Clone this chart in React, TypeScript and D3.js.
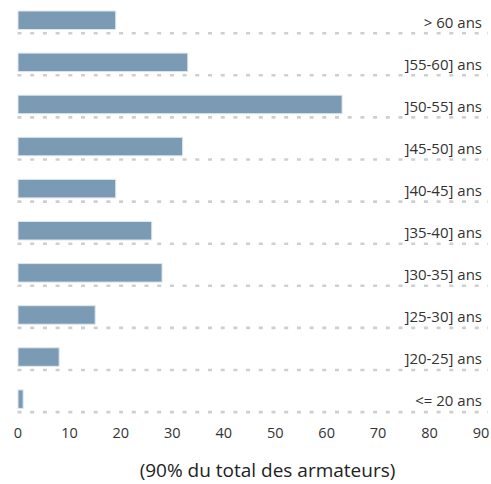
import React, { useRef, useEffect } from 'react';
import * as d3 from 'd3';

// Age groups, top to bottom, and the share of shipowners in each.
const categories = [
  '> 60 ans', ']55-60] ans', ']50-55] ans', ']45-50] ans', ']40-45] ans',
  ']35-40] ans', ']30-35] ans', ']25-30] ans', ']20-25] ans', '<= 20 ans',
];
const values = [19, 33, 63, 32, 19, 26, 28, 15, 8, 1];
const xTicks = [0, 10, 20, 30, 40, 50, 60, 70, 80, 90];
const axisTitle = '(90% du total des armateurs)';

const App = () => {
  const ref = useRef<SVGSVGElement>(null);

  useEffect(() => {
    const width = 491;
    const height = 484;
    const font = '"Open Sans", Lato, sans-serif';

    const svg = d3.select(ref.current);
    svg.selectAll('*').remove();
    svg.attr('width', width).attr('height', height);

    const x = d3.scaleLinear().domain([0, 90]).range([18, 481]);
    const y = d3.scaleBand<string>().domain(categories).range([4, 425]).padding(0);

    const rows = svg.selectAll('g.row')
      .data(categories.map((c, i) => ({ c, v: values[i] })))
      .join('g')
      .attr('class', 'row')
      .attr('transform', d => `translate(0, ${y(d.c)})`);

    // dashed baseline under each bar
    rows.append('line')
      .attr('x1', x(0) - 0.5)
      .attr('x2', 488)
      .attr('y1', 29.2)
      .attr('y2', 29.2)
      .attr('stroke', '#cfcfcf')
      .attr('stroke-width', 2.6)
      .attr('stroke-dasharray', '4,8.7');

    rows.append('rect')
      .attr('x', x(0))
      .attr('y', 7)
      .attr('width', d => x(d.v) - x(0))
      .attr('height', 18.5)
      .attr('fill', '#7a9bb3')
      .attr('stroke', '#dfe7ee')
      .attr('stroke-width', 1);

    rows.append('text')
      .attr('x', 482)
      .attr('y', 23.5)
      .attr('text-anchor', 'end')
      .attr('font-family', font)
      .attr('font-size', 15)
      .attr('fill', '#333')
      .text(d => d.c);

    // x axis tick labels
    svg.append('g')
      .selectAll('text')
      .data(xTicks)
      .join('text')
      .attr('x', d => x(d))
      .attr('y', 438)
      .attr('text-anchor', 'middle')
      .attr('font-family', font)
      .attr('font-size', 14.5)
      .attr('fill', '#333')
      .text(d => d);

    svg.append('text')
      .attr('x', 267.5)
      .attr('y', 477)
      .attr('text-anchor', 'middle')
      .attr('font-family', font)
      .attr('font-size', 19)
      .attr('fill', '#222')
      .text(axisTitle);
  }, []);

  return <svg ref={ref} style={{ position: 'absolute', left: 0, top: 0, display: 'block' }} />;
};

export default App;
